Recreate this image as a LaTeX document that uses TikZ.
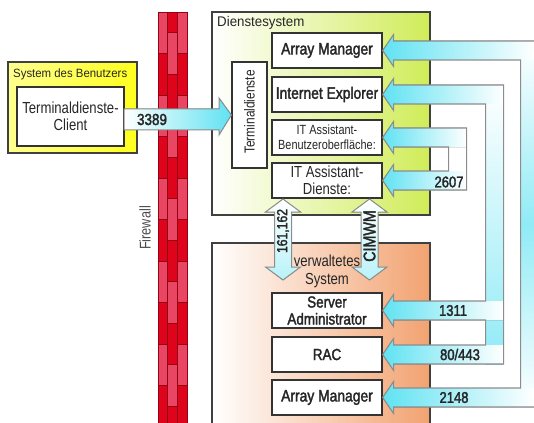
\documentclass[tikz,border=0pt]{standalone}
\usepackage{fontspec}
\setmainfont{Liberation Sans}
\newfontfamily\condfont[FakeStretch=0.82]{Liberation Sans}
\newfontfamily\medfont[FakeStretch=0.84,FakeBold=2]{Liberation Sans}
\newfontfamily\widefont[FakeStretch=0.95]{Liberation Sans}
\usepackage{xcolor}
\definecolor{fwdark}{RGB}{222,4,28}
\definecolor{fwlight}{RGB}{232,70,98}
\definecolor{fwline}{RGB}{150,0,20}
\definecolor{dslime}{RGB}{208,236,88}
\definecolor{vspeach}{RGB}{242,162,112}
\definecolor{pipecyan}{RGB}{96,226,242}
\definecolor{ubyellow}{RGB}{255,255,30}

\begin{document}
\begin{tikzpicture}[x=1pt,y=-1pt,
  box/.style={draw=black!80,line width=1.2pt,fill=white,inner sep=1pt,minimum width=110pt,minimum height=35pt,align=center,text=black!85},
  sysbox/.style={draw=black!75,line width=1.2pt,inner sep=0pt},
  bigtxt/.style={font=\medfont\fontsize{16.5}{18}\selectfont},
  smalltxt/.style={font=\condfont\fontsize{13.3}{15}\selectfont},
  midtxt/.style={font=\condfont\fontsize{16}{17}\selectfont},
  title/.style={font=\widefont\fontsize{14}{16}\selectfont,inner sep=0pt,anchor=west,text=black!85},
  port/.style={font=\medfont\fontsize{15.5}{17}\selectfont,text=black!85,inner sep=0pt},
  brick/.style={draw=fwline,line width=0.6pt},
  pipe/.style={draw=black!45,line width=1.1pt},
  hband/.style={left color=pipecyan,right color=white},
  vband/.style={top color=white,bottom color=white,middle color=pipecyan!70},
  dbl/.style={draw=black!45,line width=1pt,top color=white,bottom color=pipecyan!45},
  rdp/.style={draw=black!45,line width=1pt,left color=white,right color=pipecyan}
]
\useasboundingbox (0,0) rectangle (534,422);

% firewall
\foreach \k in {0,...,10}{
  \ifodd\k \def\fwc{fwdark}\else\def\fwc{fwlight}\fi
  \filldraw[brick,fill=\fwc] (158,12+41.5*\k) rectangle ++(9.7,41.5);
  \filldraw[brick,fill=\fwc] (177.3,12+41.5*\k) rectangle ++(9.7,41.5);
}
\filldraw[brick,fill=fwdark] (167.7,12) rectangle (177.3,32.75);
\foreach \k in {0,...,9}{
  \ifodd\k \def\fwc{fwdark}\else\def\fwc{fwlight}\fi
  \filldraw[brick,fill=\fwc] (167.7,32.75+41.5*\k) rectangle ++(9.6,41.5);
}
\node[rotate=90,font=\condfont\fontsize{15.5}{16}\selectfont,text=black!70] (fwlbl) at (145,228) {Firewall};

% user system
\node[sysbox,minimum width=129pt,minimum height=91pt,left color=ubyellow!50!white,right color=ubyellow] (benutzer) at (72.5,107.5) {};
\node[title,font=\widefont\fontsize{12}{14}\selectfont] (benutzerlbl) at (13,74) {System des Benutzers};
\node[box,minimum width=107pt,minimum height=59pt,midtxt] (client) at (70.5,116.5) {Terminaldienste-\\Client};

% service system
\node[sysbox,minimum width=218pt,minimum height=203pt,left color=white,right color=dslime] (dienst) at (321,113.5) {};
\node[title] (dienstlbl) at (217,23) {Dienstesystem};
\node[box,minimum width=35pt,minimum height=106pt] (termd) at (249.5,115) {};
\node[rotate=90,font=\condfont\fontsize{14.5}{16}\selectfont,text=black!85] (termdlbl) at (249.5,112) {Terminaldienste};

% managed system
\node[sysbox,minimum width=218pt,minimum height=187pt,left color=white,right color=vspeach] (verw) at (321,336.5) {};
\node[align=center,font=\condfont\fontsize{16}{18}\selectfont,text=black!85] (verwlbl) at (327,271) {verwaltetes\\System};

% applications
\node[box,bigtxt] (am1) at (327,50.5) {Array Manager};
\node[box,bigtxt] (ie) at (327,94.5) {Internet Explorer};
\node[box,smalltxt] (ui) at (327,137.5) {IT Assistant-\\Benutzeroberfläche:};
\node[box,midtxt] (di) at (327,180.5) {IT Assistant-\\Dienste:};
\node[box,font=\medfont\fontsize{16}{17}\selectfont] (sa) at (327,310.5) {Server\\Administrator};
\node[box,font=\medfont\fontsize{16}{17}\selectfont] (rac) at (327,354.5) {RAC};
\node[box,bigtxt] (am2) at (327,397.5) {Array Manager};

% pipe fills
\fill[vband] (520,41) rectangle (534,407);
\fill[top color=white,bottom color=pipecyan!70] (485,85) rectangle (503,364);
\fill[white] (448,128) rectangle (466,190);
\fill[hband] (am1.east) -- ++(11,-16) -- ++(0,6.5) -- ++(141,0) -- ++(0,19) -- ++(-141,0) -- ++(0,6.5) -- cycle;
\fill[hband] (ie.east) -- ++(11,-16) -- ++(0,6.5) -- ++(110,0) -- ++(0,19) -- ++(-110,0) -- ++(0,6.5) -- cycle;
\fill[hband] (ui.east) -- ++(11,-16) -- ++(0,6.5) -- ++(73,0) -- ++(0,19) -- ++(-73,0) -- ++(0,6.5) -- cycle;
\fill[hband] (di.east) -- ++(11,-16) -- ++(0,6.5) -- ++(73,0) -- ++(0,19) -- ++(-73,0) -- ++(0,6.5) -- cycle;
\fill[hband] (sa.east) -- ++(11,-16) -- ++(0,6.5) -- ++(110,0) -- ++(0,19) -- ++(-110,0) -- ++(0,6.5) -- cycle;
\fill[hband] (rac.east) -- ++(11,-16) -- ++(0,6.5) -- ++(110,0) -- ++(0,19) -- ++(-110,0) -- ++(0,6.5) -- cycle;
\fill[hband] (am2.east) -- ++(11,-16) -- ++(0,6.5) -- ++(141,0) -- ++(0,19) -- ++(-141,0) -- ++(0,6.5) -- cycle;

% pipe walls
\draw[pipe] (am1.east) -- ++(11,-16) -- ++(0,6.5) -- ++(141,0);
\draw[pipe] (am1.east) -- ++(11,16) -- ++(0,-6.5) -- ++(127,0) -- ++(0,328) -- ++(-127,0) -- ++(0,-6.5) -- (am2.east);
\draw[pipe] (am2.east) -- ++(11,16) -- ++(0,-6.5) -- ++(141,0);
\draw[pipe] (ie.east) -- ++(11,-16) -- ++(0,6.5) -- ++(110,0) -- ++(0,279) -- ++(-110,0) -- ++(0,6.5) -- (rac.east);
\draw[pipe] (ie.east) -- ++(11,16) -- ++(0,-6.5) -- ++(92,0) -- ++(0,197) -- ++(-92,0) -- ++(0,-6.5) -- (sa.east);
\draw[pipe] (sa.east) -- ++(11,16) -- ++(0,-6.5) -- ++(92,0) -- ++(0,25) -- ++(-92,0) -- ++(0,-6.5) -- (rac.east);
\draw[pipe] (ui.east) -- ++(11,-16) -- ++(0,6.5) -- ++(73,0) -- ++(0,62) -- ++(-73,0) -- ++(0,6.5) -- (di.east);
\draw[pipe] (ui.east) -- ++(11,16) -- ++(0,-6.5) -- ++(55,0) -- ++(0,24) -- ++(-55,0) -- ++(0,-6.5) -- (di.east);

\node[port] (p2607) at (449,182) {2607};
\node[port] (p1311) at (453,310.5) {1311};
\node[port] (p80) at (460,354.5) {80/443};
\node[port] (p2148) at (454,397.5) {2148};

% links between the two systems
\coordinate (snmptop) at (283,199);
\coordinate (snmpbot) at (283,280);
\coordinate (cimtop) at (369.5,199);
\coordinate (cimbot) at (369.5,280);
\filldraw[dbl] (snmptop) -- ++(17.5,13) -- ++(-9,0) -- ++(0,55) -- ++(9,0) -- (snmpbot) -- ++(-17.5,-13) -- ++(9,0) -- ++(0,-55) -- ++(-9,0) -- cycle;
\filldraw[dbl] (cimtop) -- ++(17.5,13) -- ++(-9,0) -- ++(0,55) -- ++(9,0) -- (cimbot) -- ++(-17.5,-13) -- ++(9,0) -- ++(0,-55) -- ++(-9,0) -- cycle;
\node[port,rotate=90,font=\medfont\fontsize{14.5}{16}\selectfont] (snmp) at (283,231) {161,162};
\node[port,rotate=90,font=\medfont\fontsize{17}{18}\selectfont] (cim) at (369.5,236) {CIMWM};

% remote desktop
\filldraw[rdp] (124,109) -- (219,109) -- (219,98) -- (termd.west) -- (219,135) -- (219,130) -- (124,130) -- cycle;
\node[port,font=\medfont\fontsize{16}{17}\selectfont] (p3389) at (152,119.5) {3389};
\end{tikzpicture}
\end{document}
